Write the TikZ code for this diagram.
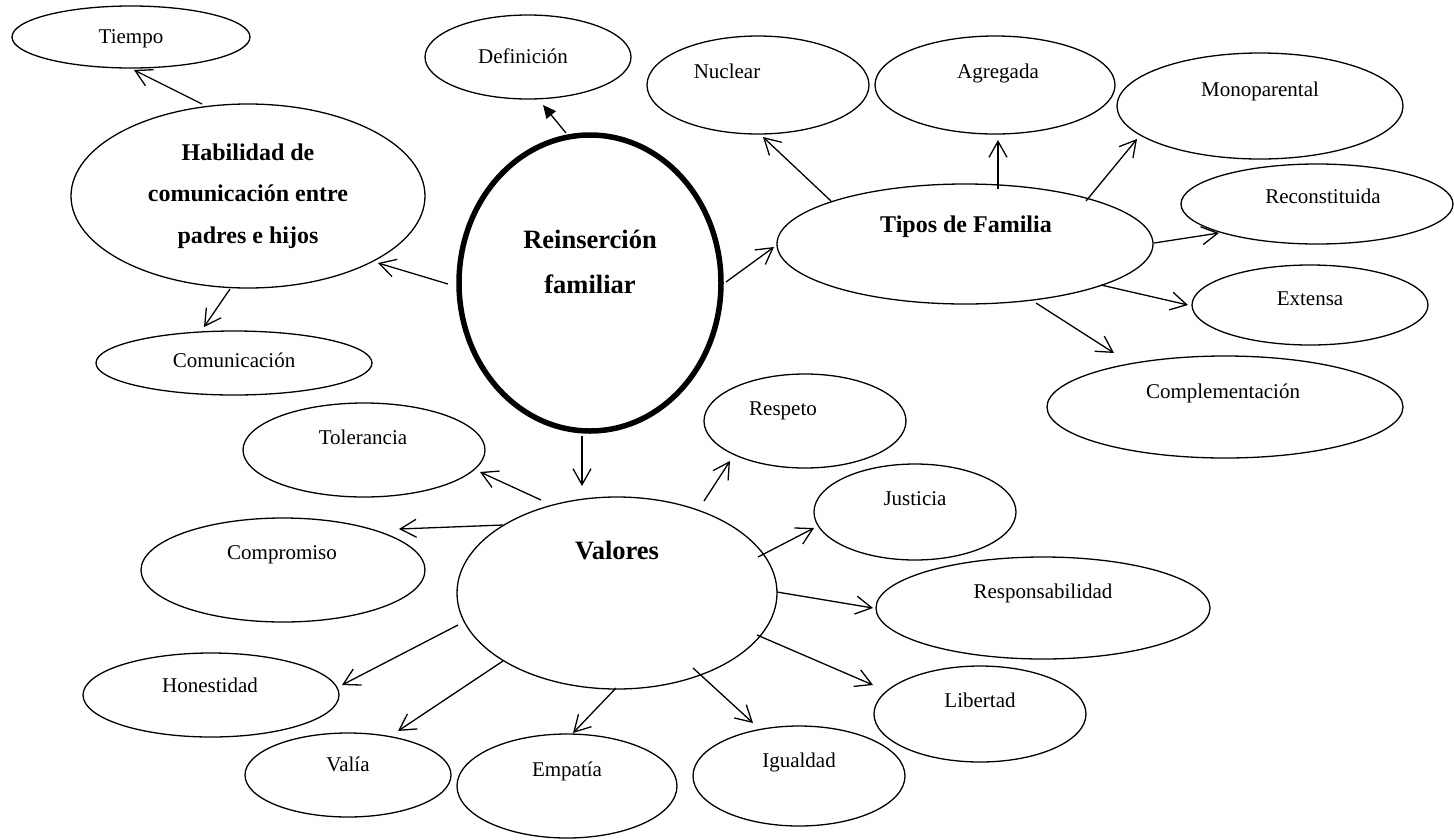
\documentclass[tikz,border=0pt]{standalone}
\usepackage{fontspec}
\setmainfont{Liberation Serif}
\usetikzlibrary{shapes.geometric,arrows.meta}
\newcommand\txt[3]{\raisebox{#2pt}[0pt][0pt]{\makebox[0pt][c]{\hspace*{#1pt}#3}}}
\tikzset{
  bub/.style={draw, ellipse, line width=1.3pt, inner sep=0pt, outer sep=0pt,
    font=\fontsize{21}{25}\selectfont},
  bigbub/.style={bub, font=\fontsize{24}{41.5}\selectfont\bfseries},
  hugebub/.style={bub, font=\fontsize{26.5}{45}\selectfont\bfseries},
  arr/.style={-{Straight Barb[length=16pt,width=18pt]}, line width=1.3pt},
  farr/.style={-{Triangle[length=13pt,width=12pt]}, line width=1.3pt}
}
\begin{document}
\begin{tikzpicture}[x=1pt,y=-1pt]
\useasboundingbox (0,0) rectangle (1454,839);
% nodes
\node[bub, minimum width=238, minimum height=62] (tiempo) at (131,37) {\txt{0}{-6}{Tiempo}};
\node[bigbub, minimum width=354, minimum height=184] (habilidad) at (248,196)
  {\txt{0}{36}{\begin{tabular}[t]{@{}c@{}}Habilidad de\\ comunicación entre\\ padres e hijos\end{tabular}}};
\node[bub, minimum width=276, minimum height=64] (comunicacion) at (234,363) {\txt{0}{-4}{Comunicación}};
\node[bub, minimum width=206, minimum height=84] (definicion) at (528,57) {\txt{-10}{-6}{Definición}};
\node[hugebub, line width=5.5pt, minimum width=262, minimum height=296] (reinsercion) at (590,283)
  {\txt{0}{35}{\begin{tabular}[t]{@{}c@{}}Reinserción\\ familiar\end{tabular}}};
\node[bub, minimum width=222, minimum height=98] (nuclear) at (758,85) {\txt{-62}{7}{Nuclear}};
\node[bub, minimum width=240, minimum height=98] (agregada) at (995,85) {\txt{6}{7}{Agregada}};
\node[bub, minimum width=286, minimum height=106] (monoparental) at (1260,106) {\txt{0}{10}{Monoparental}};
\node[bigbub, minimum width=376, minimum height=120] (tipos) at (965,244) {\txt{2}{12}{Tipos de Familia}};
\node[bub, minimum width=272, minimum height=80] (reconstituida) at (1317,204) {\txt{12}{1}{Reconstituida}};
\node[bub, minimum width=236, minimum height=80] (extensa) at (1310,305) {\txt{0}{0}{Extensa}};
\node[bub, minimum width=356, minimum height=102] (complementacion) at (1225,407) {\txt{-4}{9}{Complementación}};
\node[hugebub, minimum width=320, minimum height=192] (valores) at (617,593) {\txt{0}{34}{Valores}};
\node[bub, minimum width=242, minimum height=94] (tolerancia) at (364,450) {\txt{-2}{6}{Tolerancia}};
\node[bub, minimum width=284, minimum height=104] (compromiso) at (283,570) {\txt{-2}{11}{Compromiso}};
\node[bub, minimum width=256, minimum height=84] (honestidad) at (211,695) {\txt{-2}{3}{Honestidad}};
\node[bub, minimum width=206, minimum height=84] (valia) at (348,775) {\txt{0}{4}{Valía}};
\node[bub, minimum width=220, minimum height=104] (empatia) at (567,786) {\txt{0}{10}{Empatía}};
\node[bub, minimum width=212, minimum height=100] (igualdad) at (799,776) {\txt{0}{9}{Igualdad}};
\node[bub, minimum width=202, minimum height=94] (respeto) at (805,421) {\txt{-44}{6}{Respeto}};
\node[bub, minimum width=202, minimum height=96] (justicia) at (915,512) {\txt{0}{7}{Justicia}};
\node[bub, minimum width=334, minimum height=102] (responsabilidad) at (1043,608) {\txt{0}{10}{Responsabilidad}};
\node[bub, minimum width=212, minimum height=96] (libertad) at (980,714) {\txt{0}{7}{Libertad}};
% connectors
\draw[arr] ([shift={(-46,-92)}]habilidad.center) -- ([shift={(3,33)}]tiempo.center);
\draw[arr] ([shift={(-18,93)}]habilidad.center) -- ([shift={(-30,-36)}]comunicacion.center);
\draw[arr] ([shift={(-142,1)}]reinsercion.center) -- ([shift={(130,67)}]habilidad.center);
\draw[farr] ([shift={(-24,-150)}]reinsercion.center) -- ([shift={(15,48)}]definicion.center);
\draw[arr] ([shift={(136,-1)}]reinsercion.center) -- ([shift={(-191,3)}]tipos.center);
\draw[arr] ([shift={(-134,-43)}]tipos.center) -- ([shift={(5,52)}]nuclear.center);
\draw[arr] ([shift={(33,-55)}]tipos.center) -- ([shift={(3,55)}]agregada.center);
\draw[arr] ([shift={(121,-43)}]tipos.center) -- ([shift={(-123,33)}]monoparental.center);
\draw[arr] ([shift={(189,-1)}]tipos.center) -- ([shift={(-98,29)}]reconstituida.center);
\draw[arr] ([shift={(136,41)}]tipos.center) -- ([shift={(-122,0)}]extensa.center);
\draw[arr] ([shift={(71,59)}]tipos.center) -- ([shift={(-111,-54)}]complementacion.center);
\draw[arr] ([shift={(-8,153)}]reinsercion.center) -- ([shift={(-35,-107)}]valores.center);
\draw[arr] ([shift={(-76,-93)}]valores.center) -- ([shift={(116,22)}]tolerancia.center);
\draw[arr] ([shift={(-114,-68)}]valores.center) -- ([shift={(116,-41)}]compromiso.center);
\draw[arr] ([shift={(-159,32)}]valores.center) -- ([shift={(131,-10)}]honestidad.center);
\draw[arr] ([shift={(-114,68)}]valores.center) -- ([shift={(50,-44)}]valia.center);
\draw[arr] ([shift={(-1,95)}]valores.center) -- ([shift={(6,-53)}]empatia.center);
\draw[arr] ([shift={(76,75)}]valores.center) -- ([shift={(-46,-53)}]igualdad.center);
\draw[arr] ([shift={(87,-92)}]valores.center) -- ([shift={(-75,40)}]respeto.center);
\draw[arr] ([shift={(141,-36)}]valores.center) -- ([shift={(-101,16)}]justicia.center);
\draw[arr] ([shift={(160,-1)}]valores.center) -- ([shift={(-170,0)}]responsabilidad.center);
\draw[arr] ([shift={(140,42)}]valores.center) -- ([shift={(-107,-29)}]libertad.center);
\end{tikzpicture}
\end{document}
